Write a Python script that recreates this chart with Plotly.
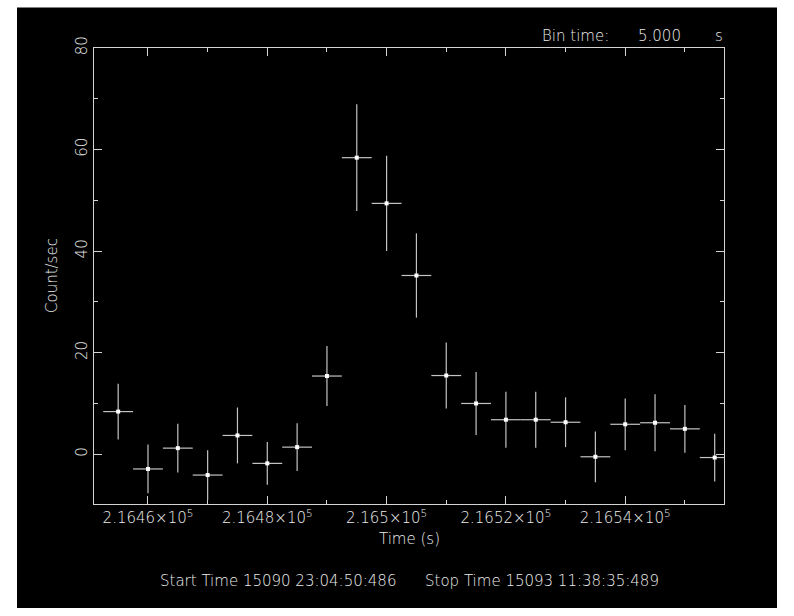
import plotly.graph_objects as go

# ---- data ----
time_s = [216455, 216460, 216465, 216470, 216475, 216480, 216485, 216490, 216495, 216500,
          216505, 216510, 216515, 216520, 216525, 216530, 216535, 216540, 216545, 216550, 216555]
rate = [8.4, -2.9, 1.2, -4.1, 3.7, -1.8, 1.4, 15.4, 58.4, 49.4,
        35.2, 15.5, 10.0, 6.8, 6.8, 6.3, -0.5, 5.9, 6.2, 5.0, -0.65]
rate_err = [5.5, 4.8, 4.8, 4.9, 5.5, 4.2, 4.7, 5.9, 10.5, 9.4,
            8.3, 6.5, 6.2, 5.5, 5.5, 4.9, 5.0, 5.1, 5.6, 4.7, 4.7]
half_bin = [2.5] * len(time_s)

xtick_vals = [216460, 216480, 216500, 216520, 216540]
xtick_text = ["2.1646×10<sup>5</sup>", "2.1648×10<sup>5</sup>", "2.165×10<sup>5</sup>",
              "2.1652×10<sup>5</sup>", "2.1654×10<sup>5</sup>"]

FG = "#ececec"
LINE = "#d4d4d4"
FONT = dict(family="DejaVu Sans", size=15, color=FG, weight=200)

fig = go.Figure()
fig.add_trace(go.Scatter(
    x=time_s, y=rate, mode="markers",
    marker=dict(symbol="square", size=4, color="#ffffff", line=dict(width=0)),
    error_y=dict(type="data", array=rate_err, color="#c4c4c4", thickness=1.2, width=0),
    error_x=dict(type="data", array=half_bin, color="#c4c4c4", thickness=1.2, width=0),
    showlegend=False, hoverinfo="skip",
))

W, H = 794, 616
L, R, T, B = 94, 70, 48, 112
pw, ph = W - L - R, H - T - B

def px(xp):
    return (xp - L) / pw

def py(yp):
    return (H - B - yp) / ph

fig.update_layout(
    width=W, height=H,
    margin=dict(l=L, r=R, t=T, b=B, pad=0),
    paper_bgcolor="#ffffff",
    plot_bgcolor="#000000",
    font=FONT,
    xaxis=dict(
        range=[216450.95, 216556.56],
        showgrid=False, zeroline=False,
        showline=True, linecolor=LINE, linewidth=1, mirror="allticks",
        ticks="inside", ticklen=8, tickcolor=LINE, tickwidth=1,
        tickmode="array", tickvals=xtick_vals, ticktext=xtick_text,
        tickfont=FONT,
        minor=dict(tickmode="linear", tick0=216450, dtick=10, ticks="inside",
                   ticklen=4, tickcolor=LINE, tickwidth=1, showgrid=False),
    ),
    yaxis=dict(
        range=[-9.8, 80],
        showgrid=False, zeroline=False,
        showline=True, linecolor=LINE, linewidth=1, mirror="allticks",
        ticks="inside", ticklen=8, tickcolor=LINE, tickwidth=1,
        tickmode="linear", tick0=0, dtick=20,
        tickangle=-90, tickfont=FONT,
        minor=dict(tickmode="linear", tick0=0, dtick=10, ticks="inside",
                   ticklen=4, tickcolor=LINE, tickwidth=1, showgrid=False),
    ),
    shapes=[dict(type="rect", xref="paper", yref="paper",
                 x0=px(17), x1=px(777), y0=py(608), y1=py(7.5),
                 fillcolor="#000000", line=dict(width=0), layer="below")],
    annotations=[
        dict(text="Time (s)", xref="paper", yref="paper", x=0.5, y=py(538.5),
             xanchor="center", yanchor="middle", showarrow=False, font=FONT),
        dict(text="Count/sec", xref="paper", yref="paper", x=px(52), y=0.5,
             xanchor="center", yanchor="middle", textangle=-90, showarrow=False, font=FONT),
        dict(text="Start Time 15090 23:04:50:486      Stop Time 15093 11:38:35:489",
             xref="paper", yref="paper", x=0.5, y=py(581),
             xanchor="center", yanchor="middle", showarrow=False, font=FONT),
        dict(text="Bin time:", xref="paper", yref="paper", x=px(540), y=py(36),
             xanchor="left", yanchor="middle", showarrow=False, font=FONT),
        dict(text="5.000", xref="paper", yref="paper", x=px(636), y=py(36),
             xanchor="left", yanchor="middle", showarrow=False, font=FONT),
        dict(text="s", xref="paper", yref="paper", x=px(725), y=py(36),
             xanchor="right", yanchor="middle", showarrow=False, font=FONT),
    ],
)

fig.write_html("out.html")
